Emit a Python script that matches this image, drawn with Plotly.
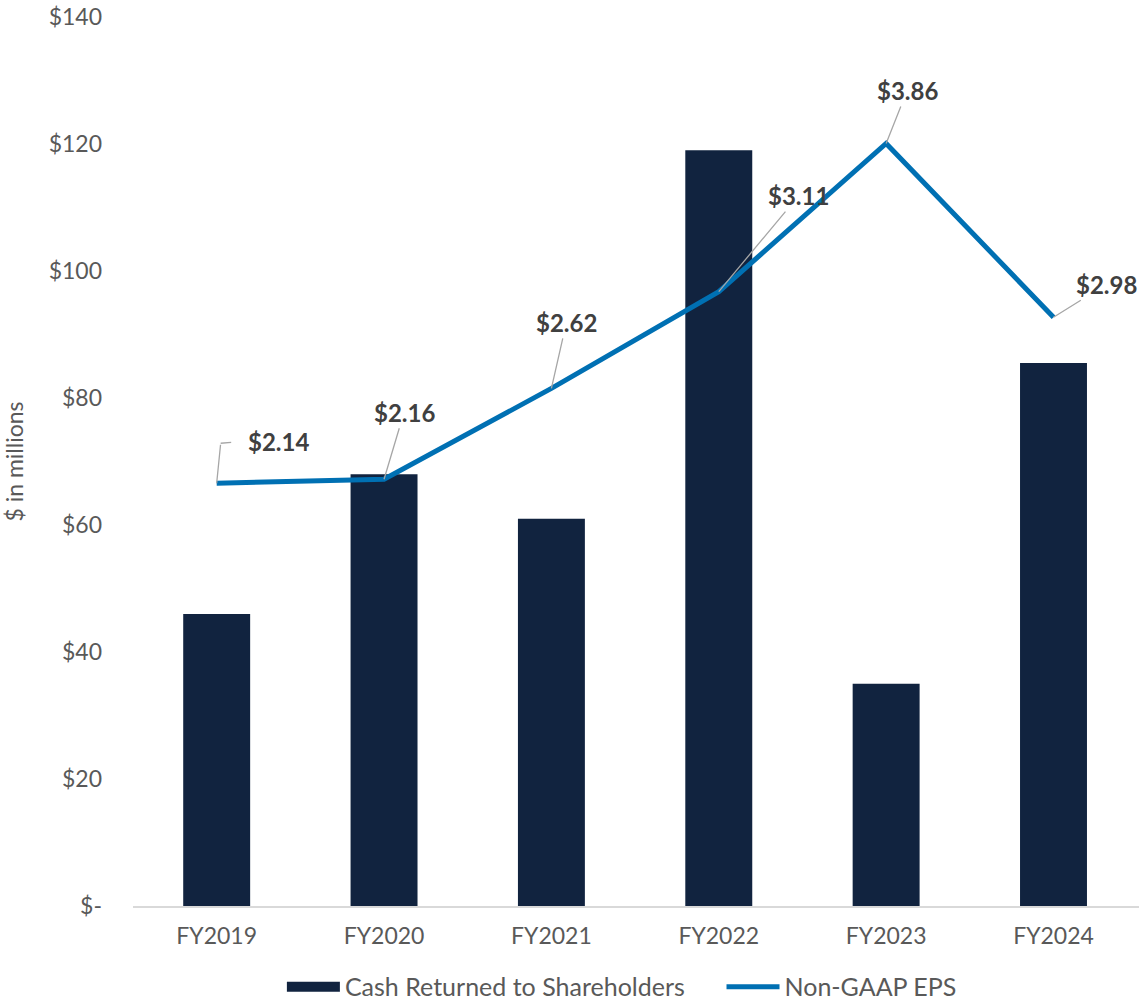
import plotly.graph_objects as go

# Fiscal years shown on the category axis
years = ["FY2019", "FY2020", "FY2021", "FY2022", "FY2023", "FY2024"]

# Cash returned to shareholders, $ in millions
cash_returned = [46, 68, 61, 119, 35, 85.5]

# Non-GAAP EPS, $ per share
eps = [2.14, 2.16, 2.62, 3.11, 3.86, 2.98]

# Left axis ticks
y_ticks = [0, 20, 40, 60, 80, 100, 120, 140]
y_tick_text = ["$-", "$20", "$40", "$60", "$80", "$100", "$120", "$140"]

# Pixel offsets of each EPS label from its point
label_dx = [62, 20, 15, 80, 21, 53]
label_dy = [-42, -67, -66, -96, -53, -33]

FONT = "Lato"
GREY_TEXT = "#595959"
NAVY = "#11233F"
BLUE = "#0070B3"
LEADER = "#A6A6A6"

fig = go.Figure()

fig.add_trace(go.Bar(
    x=years,
    y=cash_returned,
    name="Cash Returned to Shareholders",
    marker=dict(color=NAVY, line=dict(width=0)),
    width=0.4,
    yaxis="y",
    showlegend=False,
))

# Legend key for the bars drawn as a wide block
fig.add_trace(go.Scatter(
    x=[None], y=[None],
    name="Cash Returned to Shareholders",
    mode="lines",
    line=dict(color=NAVY, width=18),
    yaxis="y",
    legend="legend",
))

fig.add_trace(go.Scatter(
    x=years,
    y=eps,
    name="Non-GAAP EPS",
    mode="lines",
    line=dict(color=BLUE, width=5),
    yaxis="y2",
    legend="legend2",
))

for i, (yr, v, dx, dy) in enumerate(zip(years, eps, label_dx, label_dy)):
    if i == 0:
        # first label uses an elbow leader: up from the point, then right
        fig.add_annotation(
            x=yr, y=v, xref="x", yref="y2", text="",
            showarrow=True, arrowhead=0, arrowwidth=1.3, arrowcolor=LEADER,
            ax=4, ay=-40, standoff=0,
        )
        fig.add_annotation(
            x=yr, y=v, xref="x", yref="y2", text="",
            xshift=4, yshift=40,
            showarrow=True, arrowhead=0, arrowwidth=1.3, arrowcolor=LEADER,
            ax=12, ay=-1, standoff=0,
        )
        fig.add_annotation(
            x=yr, y=v, xref="x", yref="y2",
            text=f"<b>${v:.2f}</b>", showarrow=False,
            xshift=dx, yshift=-dy,
            font=dict(family=FONT, size=24, color="#404040"),
        )
    else:
        fig.add_annotation(
            x=yr, y=v, xref="x", yref="y2",
            text=f"<b>${v:.2f}</b>",
            showarrow=True, arrowhead=0, arrowwidth=1.3, arrowcolor=LEADER,
            ax=dx, ay=dy, standoff=0,
            font=dict(family=FONT, size=24, color="#404040"),
        )

legend_style = dict(
    orientation="h",
    xanchor="left",
    yref="container",
    y=0.016, yanchor="middle",
    font=dict(family=FONT, size=25, color=GREY_TEXT),
    itemwidth=53,
    bgcolor="rgba(0,0,0,0)",
)

fig.update_layout(
    width=1139, height=1003,
    margin=dict(l=133, r=0, t=17, b=97),
    paper_bgcolor="white",
    plot_bgcolor="white",
    font=dict(family=FONT, size=23, color=GREY_TEXT),
    bargap=0.6,
    showlegend=True,
    legend=dict(x=0.148, **legend_style),
    legend2=dict(x=0.585, **legend_style),
    xaxis=dict(
        type="category",
        showline=True, linecolor="#D9D9D9", linewidth=2,
        showgrid=False, ticks="",
        tickfont=dict(family=FONT, size=23, color=GREY_TEXT),
        ticklabelstandoff=8,
    ),
    yaxis=dict(
        range=[0, 140],
        tickvals=y_ticks, ticktext=y_tick_text,
        showgrid=False, zeroline=False, showline=False, ticks="",
        tickfont=dict(family=FONT, size=23, color=GREY_TEXT),
        ticklabelstandoff=30,
        title=dict(text="$ in millions",
                   font=dict(family=FONT, size=23, color=GREY_TEXT),
                   standoff=22),
    ),
    yaxis2=dict(
        range=[0, 4.5],
        overlaying="y", side="right",
        visible=False, showgrid=False, zeroline=False,
    ),
)

fig.write_html("out.html")
